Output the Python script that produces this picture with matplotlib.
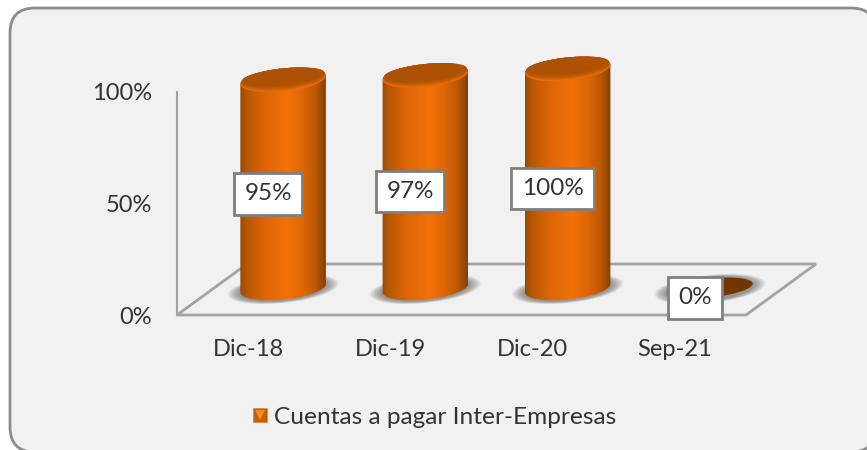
import numpy as np
import matplotlib
matplotlib.use("Agg")
import matplotlib.pyplot as plt
from matplotlib.colors import LinearSegmentedColormap
from matplotlib.legend_handler import HandlerTuple
from matplotlib.lines import Line2D
from matplotlib.patches import FancyBboxPatch, Polygon

categories = ["Dic-18", "Dic-19", "Dic-20", "Sep-21"]
values = [95, 97, 100, 0]
value_labels = ["95%", "97%", "100%", "0%"]
y_ticks = [0, 50, 100]
y_tick_labels = ["0%", "50%", "100%"]
series_name = "Cuentas a pagar Inter-Empresas"

W, H = 867, 450
plt.rcParams["font.family"] = ["Lato", "DejaVu Sans"]
TEXT = "#333333"
GRID = "#a3a3a3"

fig = plt.figure(figsize=(W / 100, H / 100), dpi=100, facecolor="white")


def px_axes(left, top, right, bottom, **kw):
    return fig.add_axes([left / W, 1 - bottom / H, (right - left) / W, (bottom - top) / H], **kw)


# rounded panel behind everything
bg = fig.add_axes([0, 0, 1, 1], zorder=0)
bg.set_xlim(0, W)
bg.set_ylim(H, 0)
bg.axis("off")
bg.add_patch(FancyBboxPatch((35, 33), 816, 394, boxstyle="round,pad=25,rounding_size=25",
                            facecolor="#f1f1f1", edgecolor="#8c8c8c", lw=2, clip_on=False))

# value axis and floor
ax = px_axes(177, 92, 746, 315, zorder=1)
ax.patch.set_visible(False)
ax.set_xlim(-0.5, len(categories) - 0.5)
ax.set_ylim(0, 100)
for s in ["top", "right", "bottom"]:
    ax.spines[s].set_visible(False)
ax.spines["left"].set_color(GRID)
ax.spines["left"].set_linewidth(1.5)
ax.set_xticks(range(len(categories)), categories)
ax.set_yticks(y_ticks, y_tick_labels)
ax.tick_params(axis="both", length=0, labelsize=17, labelcolor=TEXT)
ax.tick_params(axis="y", pad=18)
ax.tick_params(axis="x", pad=17)
ax.add_patch(Polygon([(0, 0), (1, 0), (1 + 70 / 569, 51 / 223), (70 / 569, 51 / 223)],
                     closed=True, transform=ax.transAxes, facecolor="none",
                     edgecolor=GRID, lw=2, clip_on=False))

# cylinders sit on the middle of the floor, shifted back from the axis
PX_Y = 2.19
PX_X = 569 / 4
ax3 = px_axes(212, 288 - 120 * PX_Y, 781, 288 + 20 * PX_Y, zorder=2)
ax3.patch.set_visible(False)
ax3.axis("off")
ax3.set_xlim(-0.5, len(categories) - 0.5)
ax3.set_ylim(-20, 120)

RX, RY = 43, 11.5
TILT = np.radians(6)
body_cmap = LinearSegmentedColormap.from_list("body", [
    (0, "#9a4a03"), (0.08, "#b85804"), (0.28, "#dc6506"), (0.55, "#f2720a"),
    (0.72, "#e06705"), (0.88, "#bd5904"), (1, "#853f02")])
gradient = np.linspace(0, 1, 200).reshape(1, -1)


def ellipse(cx, v, rx=RX, ry=RY, t=None, dy=0):
    # ellipse in pixels around a data point, returned in data units
    if t is None:
        t = np.linspace(0, 2 * np.pi, 90)
    x = rx * np.cos(t) * np.cos(TILT) - ry * np.sin(t) * np.sin(TILT)
    y = rx * np.cos(t) * np.sin(TILT) + ry * np.sin(t) * np.cos(TILT)
    return np.column_stack([cx + x / PX_X, v + (y + dy) / PX_Y])


for i, v in enumerate(values):
    # soft shadow on the floor
    for k in range(14):
        f = 1 - k / 14
        ax3.fill(*ellipse(i, 0, RX + 13 * f, RY + 2.5 * f, dy=-1).T,
                 color="#5a5a5a", alpha=0.06, lw=0, zorder=2)
    if v > 0:
        upper = ellipse(i, v, t=np.linspace(0, np.pi, 50))
        lower = ellipse(i, 0, t=np.linspace(np.pi, 2 * np.pi, 50))
        clip = Polygon(np.vstack([upper, lower]), closed=True, transform=ax3.transData)
        im = ax3.imshow(gradient, cmap=body_cmap, aspect="auto", zorder=3,
                        extent=(i - RX / PX_X, i + RX / PX_X, -10, v + 10))
        im.set_clip_path(clip)
        # lid: lighter rim at the front only, darker towards the back edge
        lid = ["#e66d09", "#d46206", "#c05a05", "#b35405", "#ad5105"]
        for k, c in enumerate(lid):
            ax3.fill(*ellipse(i, v, RX - 0.4 * k, RY - 0.8 * k, dy=0.8 * k).T,
                     color=c, lw=0, zorder=4 + k * 0.1)
    else:
        ax3.fill(*ellipse(i, v, ry=9.5).T, color="#733500", lw=0, zorder=4)
    ax3.annotate(value_labels[i], (i, v / 2), xytext=(-15 * 0.72, -10 * 0.72),
                 textcoords="offset points", ha="center", va="center",
                 fontsize=17.5, color=TEXT, zorder=6,
                 bbox=dict(boxstyle="square,pad=0.42", facecolor="white",
                           edgecolor="#7f7f7f", lw=2))
ax3.set_xlim(-0.5, len(categories) - 0.5)
ax3.set_ylim(-20, 120)

handle = (Line2D([], [], ls="", marker="s", ms=10, mfc="#c95c08", mec="#d98a4a", mew=0.6),
          Line2D([], [], ls="", marker="v", ms=7, mfc="#f28e24", mew=0))
fig.legend([handle], [series_name], handler_map={tuple: HandlerTuple(ndivide=1)},
           loc="center", bbox_to_anchor=(432 / W, 1 - 417 / H), frameon=False,
           fontsize=17.6, labelcolor=TEXT, handlelength=1, handletextpad=0.1)

fig.savefig("out.png", dpi=100)
